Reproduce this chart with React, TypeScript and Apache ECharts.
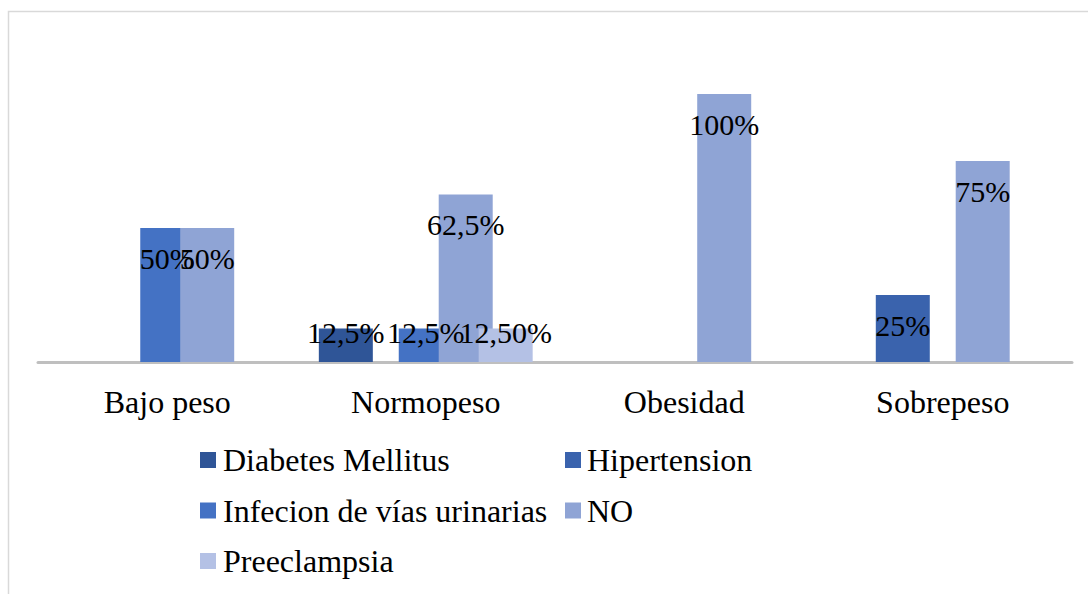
import React, { useEffect, useRef } from "react";
import * as echarts from "echarts";

const categories = ["Bajo peso", "Normopeso", "Obesidad", "Sobrepeso"];
const seriesNames = [
  "Diabetes Mellitus",
  "Hipertension",
  "Infecion de vías urinarias",
  "NO",
  "Preeclampsia",
];
const diabetes = [null, 12.5, null, null];
const hipertension = [null, null, null, 25];
const infecion = [50, 12.5, null, null];
const no = [50, 62.5, 100, 75];
const preeclampsia = [null, 12.5, null, null];
const seriesValues = [diabetes, hipertension, infecion, no, preeclampsia];
const labelDecimals = [0, 0, 0, 0, 2];
const colors = ["#2f5597", "#3a63ad", "#4472c4", "#8fa4d5", "#b4c1e5"];

const FONT = "'Liberation Serif', 'Times New Roman', serif";

function fmt(v: number, decimals: number) {
  const s = decimals > 0 ? v.toFixed(decimals) : String(v);
  return s.replace(".", ",") + "%";
}

export default function App() {
  const ref = useRef<HTMLDivElement>(null);
  useEffect(() => {
    if (!ref.current) return;
    const chart = echarts.init(ref.current, undefined, { renderer: "svg" });
    const series = seriesNames.map((name, si) => ({
      name,
      type: "bar",
      barWidth: 54,
      barGap: "-26%",
      itemStyle: { color: colors[si] },
      label: {
        show: true,
        align: "center",
        verticalAlign: "middle",
        fontFamily: FONT,
        fontSize: 30,
        color: "#000",
        formatter: (p: any) => fmt(p.value, labelDecimals[si]),
      },
      data: seriesValues[si].map((v) =>
        v === null
          ? null
          : {
              value: v,
              label: { position: ["50%", v < 20 ? 4 : 30] },
            }
      ),
    }));
    const legendText = (padLeft: number) => ({
      fontFamily: FONT,
      fontSize: 32,
      color: "#000",
      lineHeight: 34,
      padding: [0, 0, 0, padLeft],
    });
    chart.setOption({
      animation: false,
      backgroundColor: "#fff",
      graphic: [
        {
          type: "rect",
          shape: { x: 8.5, y: 11.5, width: 1300, height: 800 },
          style: { fill: "none", stroke: "#d9d9d9", lineWidth: 1.5 },
          silent: true,
        },
      ],
      grid: { left: 38, right: 16, top: 94, bottom: 232 },
      xAxis: {
        type: "category",
        data: categories,
        offset: 1.5,
        axisLine: { lineStyle: { color: "#bfbfbf", width: 3 } },
        axisTick: { show: false },
        axisLabel: {
          fontFamily: FONT,
          fontSize: 32,
          color: "#000",
          margin: 22,
        },
      },
      yAxis: {
        type: "value",
        min: 0,
        max: 100,
        show: false,
        splitLine: { show: false },
      },
      legend: [
        {
          data: [seriesNames[0], seriesNames[2], seriesNames[4]],
          orient: "vertical",
          left: 195,
          top: 438,
          itemWidth: 16,
          itemHeight: 16,
          itemGap: 16.5,
          icon: "rect",
          textStyle: legendText(2),
        },
        {
          data: [seriesNames[1], seriesNames[3]],
          orient: "vertical",
          left: 560,
          top: 438,
          itemWidth: 16,
          itemHeight: 16,
          itemGap: 16.5,
          icon: "rect",
          textStyle: legendText(1),
        },
      ],
      series,
    });
    return () => chart.dispose();
  }, []);
  return (
    <div
      ref={ref}
      style={{ position: "fixed", left: 0, top: 0, width: 1088, height: 594 }}
    />
  );
}
